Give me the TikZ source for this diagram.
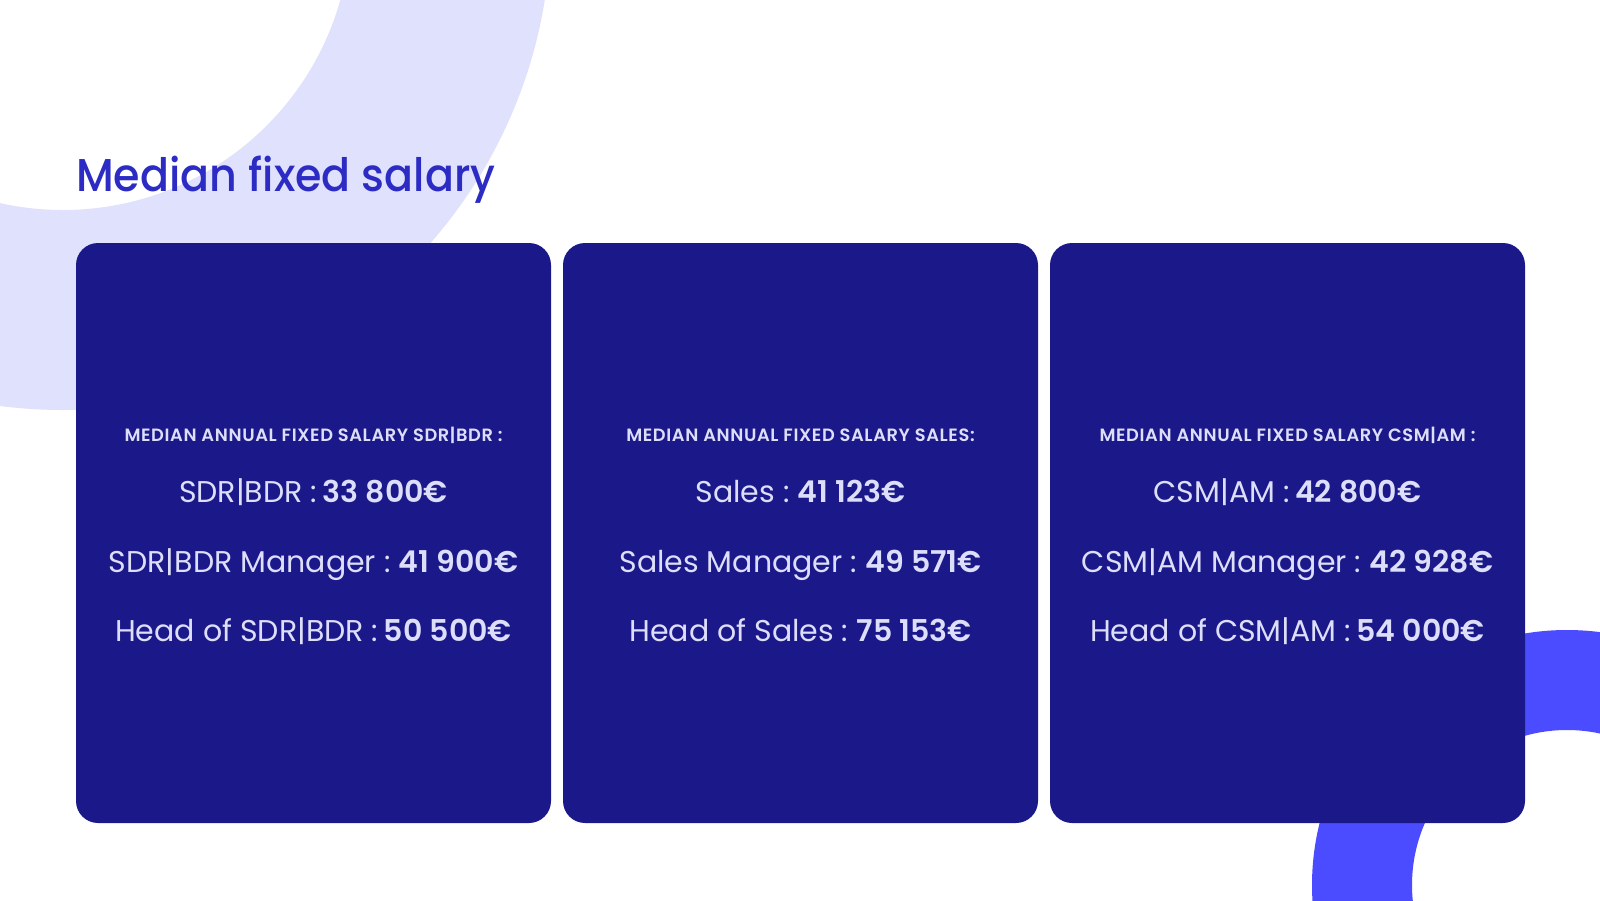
\documentclass[tikz,border=0pt]{standalone}
\usepackage{fontspec}
\setmainfont{Poppins}[BoldFont={Poppins SemiBold}]
\newfontfamily\titlefont{Poppins Medium}
\newfontfamily\headfont{Poppins SemiBold}[LetterSpace=3.5]
\newcommand\salval[1]{\hspace{-0.08em}\textbf{#1}}
\definecolor{lav}{RGB}{224,225,252}
\definecolor{ringblue}{RGB}{75,75,255}
\definecolor{navy}{RGB}{27,25,138}
\definecolor{titleblue}{RGB}{44,44,196}
\definecolor{lighttext}{RGB}{221,222,250}
\tikzset{
  card/.style={fill=navy, draw=none, rounded corners=22pt, minimum width=475pt, minimum height=580pt, inner sep=0pt},
  head/.style={text=lighttext, font=\fontsize{17.8}{20}\headfont, anchor=base, inner sep=0pt},
  line/.style={text=lighttext, font=\fontsize{30}{35}\selectfont, anchor=base, inner sep=0pt},
}
\begin{document}
\begin{tikzpicture}[x=1pt,y=-1pt]
\useasboundingbox (0,0) rectangle (1600,900);
\begin{scope}
\clip (0,0) rectangle (1600,900);
\fill[lav, even odd rule] (63,-78) circle (488pt) (63,-78) circle (288pt);
\fill[ringblue, even odd rule] (1567,885) circle (255pt) (1567,885) circle (155pt);
\end{scope}
\node[anchor=base west, inner sep=0pt, text=titleblue, font=\fontsize{46}{54}\titlefont] (title) at (76,191) {\scalebox{0.93}[1]{Median fixed salary}};
\node[card] (c1) at (313.5,533) {};
\node[card] (c2) at (800.5,533) {};
\node[card] (c3) at (1287.5,533) {};
% card 1
\node[head] (h1) at (313.5,441) {MEDIAN ANNUAL FIXED SALARY SDR|BDR :};
\node[line] (a1) at (313.5,502) {SDR|BDR : \salval{33 800€}};
\node[line] (a2) at (313.5,572) {SDR|BDR Manager : \salval{41 900€}};
\node[line] (a3) at (313.5,641) {Head of SDR|BDR : \salval{50 500€}};
% card 2
\node[head] (h2) at (800.5,441) {MEDIAN ANNUAL FIXED SALARY SALES:};
\node[line] (b1) at (800.5,502) {Sales : \salval{41 123€}};
\node[line] (b2) at (800.5,572) {Sales Manager : \salval{49 571€}};
\node[line] (b3) at (800.5,641) {Head of Sales : \salval{75 153€}};
% card 3
\node[head] (h3) at (1287.5,441) {MEDIAN ANNUAL FIXED SALARY CSM|AM :};
\node[line] (d1) at (1287.5,502) {CSM|AM : \salval{42 800€}};
\node[line] (d2) at (1287.5,572) {CSM|AM Manager : \salval{42 928€}};
\node[line] (d3) at (1287.5,641) {Head of CSM|AM : \salval{54 000€}};
\end{tikzpicture}
\end{document}
